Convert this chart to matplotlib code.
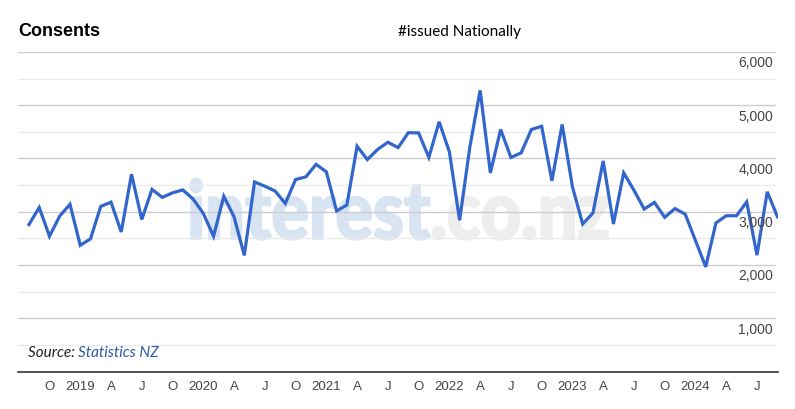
import numpy as np
import pandas as pd
import matplotlib
matplotlib.use("Agg")
from matplotlib import pyplot as plt
from matplotlib.font_manager import FontProperties
from matplotlib.patches import PathPatch
from matplotlib.textpath import TextPath
from matplotlib.transforms import Affine2D, IdentityTransform, ScaledTranslation, blended_transform_factory

# monthly consents issued nationally, Aug 2018 .. Sep 2024
months = pd.period_range("2018-08", "2024-09", freq="M")
consents = [
    2760, 3080, 2540, 2920, 3140,
    2370, 2490, 3100, 3180, 2620, 3705, 2855, 3420, 3270, 3355, 3410, 3240,
    2970, 2540, 3290, 2905, 2180, 3560, 3480, 3390, 3155, 3605, 3655, 3890,
    3750, 3015, 3125, 4230, 3980, 4170, 4305, 4205, 4485, 4480, 4020, 4690,
    4125, 2840, 4220, 5280, 3730, 4545, 4020, 4105, 4545, 4605, 3580, 4640,
    3470, 2770, 2975, 3955, 2770, 3730, 3405, 3050, 3175, 2895, 3060, 2955,
    2460, 1965, 2790, 2925, 2925, 3185, 2185, 3375, 2905,
]
y_ticks = [1000, 2000, 3000, 4000, 5000, 6000]
y_minor = [500, 1500, 2500, 3500, 4500, 5500]
month_letters = {4: "A", 7: "J", 10: "O"}

W, H = 795, 409
plt.rcParams["font.family"] = ["Liberation Sans", "DejaVu Sans"]

fig = plt.figure(figsize=(W / 100, H / 100), dpi=100)
ax = fig.add_axes([18 / W, 37.5 / H, 760 / W, (371.5 - 52) / H])

x = np.arange(len(months))
ax.plot(x, consents, color="#3366cc", lw=2.3, solid_joinstyle="miter", zorder=3)

ax.set_xlim(-1.07, len(months) - 0.95)
ax.set_ylim(0, 6000)

# grid
for v in y_ticks:
    ax.axhline(v, color="#cccccc", lw=1, xmax=0.996, zorder=1)
for v in y_minor:
    ax.axhline(v, color="#ebebeb", lw=1, xmax=0.996, zorder=1)

for s in ["top", "left", "right"]:
    ax.spines[s].set_visible(False)
ax.spines["bottom"].set_color("#333333")
ax.spines["bottom"].set_linewidth(1.2)

ax.set_yticks([])
tick_pos = [i for i, m in enumerate(months) if m.month in (1, 4, 7, 10)]
tick_lab = [str(months[i].year) if months[i].month == 1 else month_letters[months[i].month]
            for i in tick_pos]
ax.set_xticks(tick_pos, tick_lab)
ax.tick_params(axis="x", length=0, pad=7, labelsize=9.5, labelcolor="#444444")

# y labels inside, right aligned, under each grid line
trans = blended_transform_factory(ax.transAxes, ax.transData) + \
    ScaledTranslation(-5 / 100, -4.5 / 100, fig.dpi_scale_trans)
for v in y_ticks:
    ax.text(1, v, f"{v:,}", transform=trans, ha="right", va="top",
            fontsize=10, color="#444444")

# watermark
fp = FontProperties(family="Lato", weight=900)
p1 = TextPath((0, 0), "interest", size=1, prop=fp)
p2 = TextPath((0, 0), ".co.nz", size=1, prop=fp)
w1 = p1.get_extents().x1
w2 = p2.get_extents().x1
sx = (608 - 187) / (w1 + w2)
sy = 42 / 0.52
base = H - 239
ax.add_patch(PathPatch(p1, transform=Affine2D().scale(sx, sy).translate(187, base) + IdentityTransform(),
                       facecolor="#d9e4f3", edgecolor="#d9e4f3", lw=1.5, zorder=0.5))
ax.add_patch(PathPatch(p2, transform=Affine2D().scale(sx, sy).translate(187 + w1 * sx, base) + IdentityTransform(),
                       facecolor="#eeeeee", edgecolor="#eeeeee", lw=1.5, zorder=0.5))

fig.text(18 / W, 1 - 32 / H, "Consents", fontsize=13, fontweight="bold", va="center", ha="left")
fig.text(398 / W, 1 - 32 / H, "#issued Nationally", fontsize=11, family="Lato", va="center", ha="left")

t = fig.text(28 / W, 1 - 353 / H, "Source: ", fontsize=11, family="Lato", style="italic",
             va="center", ha="left", color="#222222")
fig.canvas.draw()
bb = t.get_window_extent()
fig.text(bb.x1 / W, 1 - 353 / H, "Statistics NZ", fontsize=11, family="Lato", style="italic",
         va="center", ha="left", color="#2a5aa8")

fig.savefig("out.png", dpi=100)
